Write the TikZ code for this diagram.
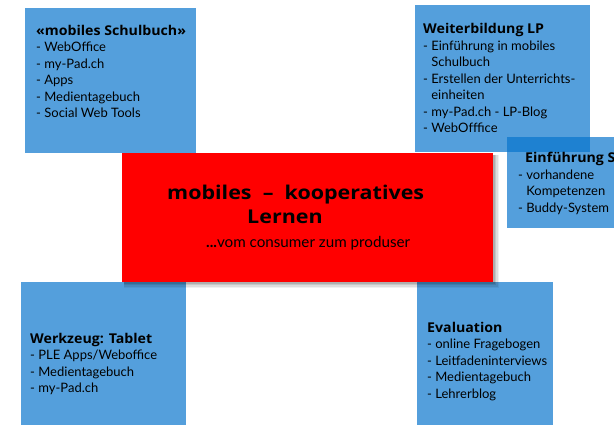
\documentclass[tikz,border=0pt]{standalone}
\usepackage{fontspec}
\setmainfont{Lato}
\newfontfamily\heavy{Open Sans}
\definecolor{panelblue}{RGB}{5,115,204}
\definecolor{hotred}{RGB}{255,0,0}
\newcommand{\ttl}[1]{{\heavy\bfseries\fontsize{13.5}{16.5}\selectfont\scalebox{1.05}[1]{#1}}}
\newcommand{\wide}[1]{\scalebox{1.13}[1]{#1}}
\begin{document}
\begin{tikzpicture}[x=1pt,y=-1pt,
  panel/.style={fill=panelblue,fill opacity=0.684,draw=none,inner sep=0pt,anchor=north west},
  body/.style={anchor=base west,align=left,inner sep=0pt,font=\fontsize{13}{16.5}\selectfont},
  headline/.style={anchor=base west,inner sep=0pt,font=\heavy\bfseries\fontsize{19}{20}\selectfont},
  subline/.style={anchor=base west,inner sep=0pt,font=\fontsize{15.2}{16}\selectfont}]
\useasboundingbox (0,0) rectangle (614,424);
\clip (0,0) rectangle (614,424);

% blue panels (translucent, so overlaps come out darker)
\node[panel,minimum width=171pt,minimum height=145pt] (schulbuch) at (25,8) {};
\node[panel,minimum width=175pt,minimum height=147pt] (weiterbildung) at (415,5) {};
\node[panel,minimum width=120pt,minimum height=91pt] (einfuehrung) at (507,137) {};
\node[panel,minimum width=165pt,minimum height=145pt] (werkzeug) at (21,282) {};
\node[panel,minimum width=136pt,minimum height=145pt] (evaluation) at (417,282) {};

% soft drop shadow of the central box
\foreach \d/\o in {6/0.06,4.5/0.08,3/0.10,1.5/0.12}
  \fill[black,opacity=\o] (124,155) rectangle (493+\d,282+\d);

% central red box
\node[fill=hotred,draw=none,inner sep=0pt,anchor=north west,
      minimum width=371pt,minimum height=129pt] (center) at (122,153) {};

% panel texts (anchored at the baseline of their last line)
\node[body] (t1) at ([shift={(11,109.5)}]schulbuch.north west)
  {\ttl{«mobiles Schulbuch»}\\- WebOffice\\- my-Pad.ch\\- Apps\\- Medientagebuch\\- Social Web Tools};
\node[body] (t2) at ([shift={(8,127.5)}]weiterbildung.north west)
  {\ttl{Weiterbildung LP}\\- Einführung in mobiles\\\phantom{- }Schulbuch\\- Erstellen der Unterrichts-\\\phantom{- }einheiten\\- my-Pad.ch - LP-Blog\\- WebOfffice};
\node[body] (t3) at ([shift={(18,25)}]einfuehrung.north west)
  {\ttl{Einführung S}};
\node[body] (t3b) at ([shift={(11,75)}]einfuehrung.north west)
  {- vorhandene\\\phantom{- }Kompetenzen\\- Buddy-System};
\node[body] (t4) at ([shift={(9,110.5)}]werkzeug.north west)
  {\ttl{Werkzeug: Tablet}\\- PLE Apps/Weboffice\\- Medientagebuch\\- my-Pad.ch};
\node[body] (t5) at ([shift={(10,116)}]evaluation.north west)
  {\ttl{Evaluation}\\- online Fragebogen\\- Leitfadeninterviews\\- Medientagebuch\\- Lehrerblog};

% central texts
\node[headline] (h1) at ([shift={(45,46)}]center.north west) {\wide{mobiles\ \ –\ \ kooperatives}};
\node[headline] (h2) at ([shift={(125,70)}]center.north west) {\wide{Lernen}};
\node[subline] (h3) at ([shift={(84,94)}]center.north west) {\textbf{...}vom consumer zum produser};
\end{tikzpicture}
\end{document}
